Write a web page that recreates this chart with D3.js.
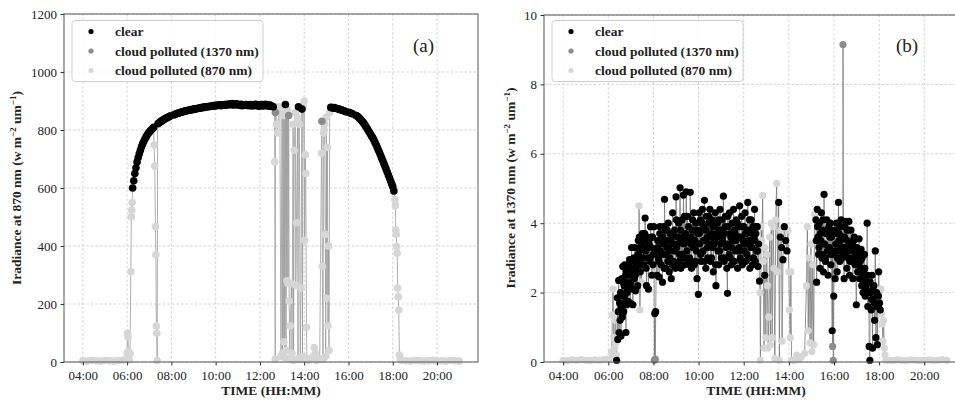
<!DOCTYPE html>
<html>
<head>
<meta charset="utf-8">
<script src="https://cdn.jsdelivr.net/npm/d3@7"></script>
<style>
  body { margin: 0; background: #fff; }
  svg { display: block; font-family: "Liberation Serif", "Times New Roman", serif; }
</style>
</head>
<body>
<svg id="chart" width="955" height="401"></svg>
<script>
// tick values / labels
const timeTicks = [4, 6, 8, 10, 12, 14, 16, 18, 20];
const timeLabels = ["04:00", "06:00", "08:00", "10:00", "12:00", "14:00", "16:00", "18:00", "20:00"];
const ticksA = [0, 200, 400, 600, 800, 1000, 1200];
const ticksB = [0, 2, 4, 6, 8, 10];
const seriesNames = ["clear", "cloud polluted (1370 nm)", "cloud polluted (870 nm)"];

// panel (a): irradiance at 870 nm, [hour, value]
const clearA = [
  [6.25,600],[6.30,625],[6.35,650],[6.40,670],[6.45,690],[6.50,705],[6.55,718],[6.60,730],[6.65,742],[6.70,752],
  [6.75,760],[6.80,768],[6.85,775],[6.90,782],[6.95,788],[7.00,792],[7.05,797],[7.10,801],[7.15,805],[7.20,809],
  [7.40,822],[7.45,825],[7.50,828],[7.55,831],[7.60,833],[7.65,836],[7.70,838],[7.75,840],[7.80,842],[7.85,844],
  [7.90,846],[7.95,848],[8.15,853],[8.20,855],[8.25,857],[8.30,858],[8.35,859],[8.40,860],[8.45,862],[8.50,862],
  [8.55,864],[8.60,865],[8.65,866],[8.70,866],[8.75,868],[8.80,868],[8.85,870],[8.90,869],[8.95,871],[9.00,871],
  [9.05,873],[9.10,872],[9.15,874],[9.20,874],[9.25,876],[9.30,875],[9.35,877],[9.40,877],[9.45,879],[9.50,878],
  [9.55,880],[9.60,880],[9.65,881],[9.70,880],[9.75,882],[9.80,883],[9.85,882],[9.90,884],[9.95,883],[10.00,885],
  [10.05,884],[10.10,886],[10.15,885],[10.20,887],[10.25,884],[10.30,887],[10.35,886],[10.40,888],[10.45,885],[10.50,889],
  [10.55,886],[10.60,888],[10.65,890],[10.70,887],[10.75,891],[10.80,886],[10.85,889],[10.90,887],[10.95,890],[11.00,886],
  [11.05,888],[11.10,885],[11.15,889],[11.20,884],[11.25,887],[11.30,886],[11.35,888],[11.40,885],[11.45,887],[11.50,884],
  [11.55,886],[11.60,888],[11.65,883],[11.70,887],[11.75,885],[11.80,889],[11.85,884],[11.90,886],[11.95,882],[12.00,887],
  [12.05,884],[12.10,888],[12.15,883],[12.20,886],[12.25,889],[12.30,884],[12.35,887],[12.40,882],[12.45,886],[12.50,884],
  [12.55,881],[12.60,880],[13.15,888],[13.74,880],[13.90,872],
  [15.20,878],[15.25,877],[15.30,876],[15.35,877],[15.40,875],[15.45,874],[15.50,874],[15.55,872],[15.60,871],[15.65,870],
  [15.70,869],[15.75,867],[15.80,866],[15.85,864],[15.90,863],[16.05,860],[16.10,858],[16.15,857],[16.35,850],[16.40,847],
  [16.45,844],[16.50,840],[16.55,836],[16.60,832],[16.65,827],[16.70,822],[16.75,816],[16.80,810],[16.85,804],[16.90,797],
  [16.95,791],[17.00,785],[17.05,778],[17.10,772],[17.15,765],[17.20,757],[17.25,749],[17.30,740],[17.35,731],[17.40,722],
  [17.45,713],[17.50,703],[17.55,694],[17.60,684],[17.65,675],[17.70,665],[17.75,655],[17.80,645],[17.85,635],[17.90,625],
  [17.95,615],[18.00,605],[18.05,590]
];
const cloud1370A = [
  [8.00,850],[8.05,851],[8.10,852],[12.70,860],[13.30,850],[14.80,830],
  [15.95,862],[16.00,861],[16.20,855],[16.25,853],[16.30,851]
];
const cloud870A = [
  [4.0,4],[4.2,3],[4.4,5],[4.6,4],[4.8,3],[5.0,5],[5.2,4],[5.4,3],[5.6,5],[5.8,6],[5.95,8],
  [6.00,30],[6.02,99],[6.04,87],[6.06,36],[6.08,24],[6.10,8],[6.13,30],[6.17,311],[6.19,501],[6.21,524],[6.23,550],
  [7.22,748],[7.25,676],[7.28,467],[7.30,370],[7.32,124],[7.34,99],[7.36,5],[7.38,817],
  [12.65,880],[12.67,690],[12.69,10],[12.72,870],[12.75,820],[12.80,790],[12.85,880],[12.90,860],[12.95,20],[13.00,870],
  [13.02,30],[13.05,850],[13.08,70],[13.10,880],[13.12,15],[13.18,40],[13.20,860],[13.22,280],[13.25,870],[13.27,270],
  [13.32,210],[13.35,10],[13.37,125],[13.42,270],[13.45,30],[13.50,820],[13.52,5],[13.55,730],[13.60,860],[13.62,265],
  [13.65,480],[13.70,840],[13.72,10],[13.78,820],[13.82,10],[13.85,255],[13.92,20],[13.95,880],[14.00,900],[14.02,420],
  [14.05,715],[14.07,650],[14.10,120],[14.12,10],[14.20,5],[14.35,15],[14.45,50],[14.50,30],[14.55,5],[14.70,10],
  [14.78,720],[14.82,330],[14.85,10],[14.88,790],[14.90,800],[14.92,820],[14.95,440],[14.97,20],[15.00,845],[15.02,220],
  [15.05,740],[15.07,125],[15.10,400],[15.12,40],[15.15,860],
  [18.10,560],[18.12,540],[18.14,455],[18.16,440],[18.18,398],[18.20,375],[18.22,255],[18.25,225],[18.27,179],[18.30,24],
  [18.35,10],[18.40,5],[18.6,4],[18.8,3],[19.0,5],[19.2,4],[19.4,3],[19.6,4],[19.8,5],[20.0,3],[20.2,4],[20.4,3],
  [20.6,5],[20.8,4],[21.0,3]
];

// panel (b): irradiance at 1370 nm, [hour, value]
const clearB = [
  [6.37,0.05],[6.40,1.85],[6.42,0.65],[6.44,1.45],[6.46,2.35],[6.48,0.85],[6.50,1.70],[6.52,1.20],[6.54,2.00],[6.56,0.75],
  [6.58,1.60],[6.60,2.40],[6.62,1.30],[6.64,2.75],[6.66,1.90],[6.68,1.45],[6.70,2.20],[6.72,2.80],[6.74,1.70],[6.76,2.30],
  [6.78,0.85],[6.80,2.60],[6.82,1.65],[6.84,2.10],[6.86,2.70],[6.88,1.75],[6.91,2.50],[6.94,2.95],[6.97,1.70],[7.00,2.30],
  [7.03,3.30],[7.06,2.60],[7.09,1.65],[7.12,2.90],[7.15,2.40],[7.18,3.30],[7.21,2.05],[7.24,2.75],
  [6.655,2.3],[6.715,1.9],[6.775,2.5],[6.835,2.0],[6.895,2.8],[6.955,2.2],[7.015,2.7],[7.075,2.1],[7.135,3.0],[7.195,2.5],
  [7.27,3.00],[7.30,2.20],[7.33,3.50],[7.36,2.90],[7.39,3.20],[7.42,2.60],[7.45,3.40],[7.48,3.00],[7.51,3.70],[7.54,3.30],
  [7.57,2.80],[7.60,3.50],[7.63,4.15],[7.66,3.20],[7.69,2.20],[7.72,3.60],[7.75,3.00],[7.78,2.10],[7.81,3.40],[7.84,2.90],
  [7.87,3.90],[7.90,3.30],[7.93,2.50],[7.96,3.60],[7.99,3.10],[8.02,3.90],[8.06,1.40],[8.10,1.45],[8.13,3.20],
  [7.255,2.6],[7.315,3.1],[7.375,3.6],[7.435,2.8],[7.495,3.3],[7.555,3.0],[7.615,3.7],[7.675,2.7],[7.735,3.3],[7.795,3.5],
  [7.855,3.0],[7.915,3.6],[7.975,2.8],
  [8.16,2.50],[8.19,3.50],[8.22,3.00],[8.25,2.45],[8.28,3.70],[8.31,3.20],[8.34,2.80],[8.37,3.60],[8.40,2.30],[8.43,3.40],
  [8.46,3.90],[8.49,4.69],[8.52,3.10],[8.55,2.70],[8.58,3.50],[8.61,3.80],[8.64,2.90],[8.67,3.30],[8.70,2.60],[8.73,3.70],
  [8.76,3.20],[8.79,2.40],[8.82,3.60],[8.85,4.30],[8.88,2.90],[8.91,3.40],[8.94,3.80],[8.97,2.70],[9.00,4.76],[9.03,3.30],
  [9.06,2.80],[9.09,3.60],[9.12,4.00],[9.15,3.10],[9.18,5.02],[9.21,2.70],[9.24,3.50],[9.27,4.10],[9.30,3.00],[9.33,4.81],
  [9.36,3.40],[9.39,2.80],[9.42,3.70],[9.45,4.90],[9.48,3.20],[9.51,4.20],[9.54,2.90],[9.57,3.60],[9.60,3.00],[9.63,4.89],
  [9.66,3.40],[9.69,2.70],[9.72,3.80],[9.75,3.30],[9.78,4.30],[9.81,2.80],[9.84,3.50],[9.87,4.00],[9.90,3.20],[9.93,2.40],
  [9.96,3.70],[9.99,1.95],
  [8.175,3.3],[8.235,2.9],[8.295,3.9],[8.355,3.1],[8.415,3.6],[8.475,2.7],[8.535,3.8],[8.595,3.3],[8.655,4.0],[8.715,3.0],
  [8.775,3.5],[8.835,2.8],[8.895,3.7],[8.955,3.2],[9.015,4.1],[9.075,3.4],[9.135,2.9],[9.195,3.8],[9.255,3.1],[9.315,3.6],
  [9.375,4.2],[9.435,3.0],[9.495,3.5],[9.555,3.9],[9.615,2.8],[9.675,3.6],[9.735,4.1],[9.795,3.3],[9.855,2.9],[9.915,3.8],
  [9.975,3.4],
  [10.02,4.30],[10.05,3.40],[10.08,4.10],[10.11,2.90],[10.14,3.80],[10.17,4.40],[10.20,3.20],[10.23,3.90],[10.26,4.66],[10.29,3.50],
  [10.32,2.70],[10.35,4.20],[10.38,3.60],[10.41,3.00],[10.44,4.00],[10.47,3.40],[10.50,4.40],[10.53,2.90],[10.56,3.70],[10.59,4.10],
  [10.62,3.30],[10.65,2.60],[10.68,3.90],[10.71,3.50],[10.74,4.30],[10.77,2.20],[10.80,3.60],[10.83,4.00],[10.86,3.20],[10.89,2.80],
  [10.92,3.80],[10.95,4.40],[10.98,3.40],[11.01,3.00],[11.04,4.10],[11.07,3.60],[11.10,4.78],[11.13,2.90],[11.16,3.70],[11.19,4.20],
  [11.22,3.30],[11.25,2.70],[11.28,1.98],[11.31,3.90],[11.34,3.40],[11.37,4.30],[11.40,3.00],[11.43,3.60],[11.46,2.80],[11.49,4.00],
  [11.52,3.50],[11.55,4.40],[11.58,2.90],[11.61,3.70],[11.64,3.20],[11.67,4.10],[11.70,3.60],[11.73,2.70],[11.76,3.90],[11.79,3.30],
  [11.82,4.50],[11.85,3.00],[11.88,3.60],[11.91,4.20],[11.94,2.80],[11.97,3.50],[12.00,3.90],[12.03,3.20],[12.06,4.30],[12.09,2.90],
  [12.12,3.70],[12.15,3.40],[12.18,4.60],[12.21,3.00],[12.24,3.80],[12.27,2.70],[12.30,3.50],[12.33,4.10],[12.36,3.30],[12.39,2.80],
  [12.42,3.90],[12.45,3.60],[12.48,4.40],[12.51,2.90],[12.54,3.70],[12.57,3.20],[12.60,3.90],[12.63,2.75],[12.66,3.40],[12.70,2.33],
  [10.035,3.7],[10.095,3.1],[10.155,4.0],[10.215,3.5],[10.275,2.9],[10.335,3.8],[10.395,3.3],[10.455,4.2],[10.515,3.6],[10.575,3.0],
  [10.635,3.9],[10.695,3.4],[10.755,2.8],[10.815,3.7],[10.875,4.1],[10.935,3.2],[10.995,3.8],[11.055,3.5],[11.115,3.0],[11.175,3.9],
  [11.235,3.4],[11.295,4.2],[11.355,3.1],[11.415,3.7],[11.475,3.3],[11.535,2.9],[11.595,3.8],[11.655,3.5],[11.715,4.0],[11.775,3.2],
  [11.835,3.6],[11.895,2.9],[11.955,3.9],[12.015,3.4],[12.075,3.7],[12.135,3.1],[12.195,3.5],[12.255,4.1],[12.315,3.3],[12.375,3.7],
  [12.435,3.0],[12.495,3.5],[12.555,3.9],[12.615,3.2],
  [12.93,2.50],[13.55,4.60],[13.62,3.60],[13.68,3.30],[13.74,2.95],[13.80,3.90],[13.86,3.50],[13.92,3.20],
  [15.20,4.10],[15.23,2.30],[15.26,4.40],[15.29,3.60],[15.32,3.10],[15.35,4.00],[15.38,2.70],[15.41,3.50],[15.44,4.30],[15.47,3.00],
  [15.50,3.80],[15.53,2.60],[15.56,4.83],[15.59,3.40],[15.62,2.90],[15.65,3.70],[15.68,4.10],[15.71,3.20],[15.74,2.50],[15.77,3.90],
  [15.80,3.30],[15.83,4.00],[15.86,2.80],[15.89,3.60],[15.92,0.90],[15.95,3.10],[15.99,1.90],[16.02,3.80],[16.05,2.40],[16.08,3.40],
  [16.11,4.00],[16.14,2.60],[16.17,3.20],[16.20,4.60],[16.23,3.70],[16.26,2.90],[16.29,3.50],[16.32,4.10],[16.35,3.00],[16.38,3.60],
  [16.42,3.30],[16.45,2.40],[16.48,3.90],
  [15.215,3.5],[15.275,3.9],[15.335,3.3],[15.395,3.7],[15.455,3.1],[15.515,4.1],[15.575,3.4],[15.635,3.0],[15.695,3.8],[15.755,3.3],
  [15.815,3.6],[15.875,3.1],[15.935,3.7],[16.035,3.2],[16.095,3.7],[16.155,3.0],[16.215,3.5],[16.275,3.9],[16.335,3.3],[16.395,3.1],
  [16.465,3.6],
  [16.51,3.10],[16.54,4.05],[16.57,2.70],[16.60,3.50],[16.63,3.00],[16.66,4.05],[16.69,2.50],[16.72,3.30],[16.75,3.80],[16.78,2.90],
  [16.81,3.40],[16.84,2.40],[16.87,3.20],[16.90,3.60],[16.93,2.80],[16.96,3.10],[16.99,1.65],[17.02,3.30],[17.05,2.60],[17.08,3.00],
  [17.11,3.55],[17.14,2.40],[17.17,2.90],[17.20,3.25],[17.23,2.20],[17.26,2.70],[17.29,2.00],[17.32,2.55],[17.35,3.10],[17.38,1.90],
  [17.41,2.40],[17.44,2.05],[17.47,4.00],[17.50,1.60],[17.53,2.30],[17.56,0.45],[17.59,0.05],[17.62,2.00],[17.65,1.50],[17.68,2.50],
  [17.71,0.40],[17.74,1.80],[17.77,2.20],[17.80,1.20],[17.83,3.20],[17.86,0.70],[17.89,2.00],[17.92,0.50],[17.95,1.60],[17.98,2.60],
  [18.02,1.70],[18.05,1.50],
  [16.525,3.3],[16.585,3.8],[16.645,3.2],[16.705,2.9],[16.765,3.4],[16.825,3.0],[16.885,3.5],[16.945,2.9],[17.005,3.2],[17.065,2.8],
  [17.125,3.1],[17.185,2.6],[17.245,3.0],[17.305,2.3],[17.365,2.7],[17.425,2.2],[17.485,2.5],[17.545,2.0],[17.605,2.3],[17.665,1.8],
  [17.725,2.1],[17.785,1.7],[17.845,2.0],[17.905,1.6],[17.965,1.9]
];
const cloud1370B = [
  [7.50,3.60],[8.04,0.05],[8.08,0.08],[15.94,0.45],[15.97,0.05],[16.25,3.10],[16.40,9.15],[16.80,3.30],[17.10,3.20]
];
const cloud870B = [
  [4.0,0.05],[4.2,0.04],[4.4,0.06],[4.6,0.05],[4.8,0.07],[5.0,0.05],[5.2,0.04],[5.4,0.06],[5.6,0.05],[5.8,0.07],[6.0,0.08],
  [6.10,0.10],[6.15,0.30],[6.18,1.35],[6.21,2.10],[6.24,0.70],[6.27,0.40],[6.30,1.20],[6.33,0.55],[6.35,0.20],
  [7.36,4.50],[7.40,1.50],[7.43,3.20],[7.47,2.30],[7.52,3.70],[8.03,3.40],
  [12.72,2.00],[12.74,0.05],[12.77,3.90],[12.80,3.50],[12.84,4.80],[12.87,2.90],[12.90,0.40],[12.94,3.30],[12.98,0.70],[13.02,3.10],
  [13.05,2.20],[13.08,0.40],[13.11,1.30],[13.15,3.60],[13.18,0.50],[13.22,4.00],[13.26,0.70],[13.30,3.90],[13.34,2.70],[13.38,0.10],
  [13.42,4.10],[13.46,5.15],[13.50,2.60],[13.58,0.05],[13.65,3.80],[13.70,0.60],[13.96,3.80],[14.00,2.60],[14.03,1.50],[14.06,0.70],
  [14.09,2.60],[14.12,0.05],[14.25,0.05],[14.35,0.20],[14.45,0.08],[14.55,0.15],[14.70,0.25],[14.78,2.20],[14.82,3.90],[14.86,0.90],
  [14.90,3.00],[14.94,0.55],[14.98,3.40],[15.02,0.30],[15.06,2.80],[15.10,0.50],[15.14,4.25],
  [18.08,2.10],[18.11,1.40],[18.14,1.10],[18.17,0.60],[18.20,1.20],[18.23,0.40],[18.26,0.20],[18.30,0.05],
  [18.4,0.05],[18.6,0.04],[18.8,0.06],[19.0,0.05],[19.2,0.04],[19.4,0.06],[19.6,0.05],[19.8,0.04],[20.0,0.05],[20.2,0.06],
  [20.4,0.04],[20.6,0.05],[20.8,0.07],[21.0,0.05]
];

const colors = ["#000000", "#8c8c8c", "#d6d6d6"];
const svg = d3.select("#chart");

function drawPanel(p) {
  const x = d3.scaleLinear().domain([3.15, 21.85]).range([p.left, p.right]);
  const y = d3.scaleLinear().domain([0, p.yMax]).range([p.bottom, p.top]);
  const g = svg.append("g");

  // grid
  g.selectAll(".gx").data(timeTicks).enter().append("line")
    .attr("x1", d => x(d)).attr("x2", d => x(d))
    .attr("y1", p.top).attr("y2", p.bottom)
    .attr("stroke", "#c8c8c8").attr("stroke-width", 0.8).attr("stroke-dasharray", "2.5,2");
  g.selectAll(".gy").data(p.yTicks).enter().append("line")
    .attr("x1", p.left).attr("x2", p.right)
    .attr("y1", d => y(d)).attr("y2", d => y(d))
    .attr("stroke", "#c8c8c8").attr("stroke-width", 0.8).attr("stroke-dasharray", "2.5,2");

  // one thin line through all samples in time order
  const all = [];
  p.series.forEach((s, k) => s.forEach(d => all.push({ t: d[0], v: d[1], k })));
  all.sort((a, b) => a.t - b.t);
  g.append("path")
    .datum(all)
    .attr("fill", "none")
    .attr("stroke", p.lineColor)
    .attr("stroke-width", 0.8)
    .attr("d", d3.line().x(d => x(d.t)).y(d => y(d.v)));

  // markers: light gray first, black last
  [2, 1, 0].forEach(k => {
    g.append("g").selectAll("circle").data(p.series[k]).enter().append("circle")
      .attr("cx", d => x(d[0])).attr("cy", d => y(d[1]))
      .attr("r", p.r)
      .attr("fill", colors[k]);
  });

  // frame
  g.append("rect")
    .attr("x", p.left).attr("y", p.top)
    .attr("width", p.right - p.left).attr("height", p.bottom - p.top)
    .attr("fill", "none").attr("stroke", "#555").attr("stroke-width", 1);

  // axes
  const xAxis = d3.axisBottom(x).tickValues(timeTicks)
    .tickFormat((d, i) => timeLabels[i]).tickSize(3.5).tickPadding(5).tickSizeOuter(0);
  const yAxis = d3.axisLeft(y).tickValues(p.yTicks).tickFormat(d3.format("d"))
    .tickSize(3.5).tickPadding(3.5).tickSizeOuter(0);
  const gx = g.append("g").attr("transform", `translate(0,${p.bottom})`).call(xAxis);
  const gy = g.append("g").attr("transform", `translate(${p.left},0)`).call(yAxis);
  [gx, gy].forEach(a => {
    a.select(".domain").remove();
    a.selectAll("line").attr("stroke", "#333");
    a.selectAll("text").attr("font-size", "13px").attr("fill", "#222")
      .attr("font-family", "Liberation Serif, serif");
  });

  // axis titles
  g.append("text")
    .attr("x", p.titleX)
    .attr("y", 395)
    .attr("text-anchor", "middle")
    .attr("font-size", "13.5px").attr("font-weight", "bold").attr("fill", "#222")
    .text("TIME (HH:MM)");

  const yt = g.append("text")
    .attr("transform", `translate(${p.ylabelX},188) rotate(-90)`)
    .attr("text-anchor", "middle")
    .attr("font-size", "13.5px").attr("font-weight", "bold").attr("fill", "#222");
  yt.append("tspan").text(`Iradiance at ${p.wl} nm (w m`);
  yt.append("tspan").attr("dy", -5).attr("font-size", "9px").text("\u22122");
  yt.append("tspan").attr("dy", 5).text(" um");
  yt.append("tspan").attr("dy", -5).attr("font-size", "9px").text("\u22121");
  yt.append("tspan").attr("dy", 5).text(")");

  // panel tag
  g.append("text")
    .attr("x", p.tagX).attr("y", 52)
    .attr("font-size", "19px").attr("fill", "#222")
    .text(p.tag);

  // legend
  const lg = g.append("g").attr("transform", `translate(${p.legX},20.5)`);
  lg.append("rect")
    .attr("width", 191).attr("height", 61).attr("rx", 3)
    .attr("fill", "#fff").attr("fill-opacity", 0.8)
    .attr("stroke", "#cfcfcf").attr("stroke-width", 1);
  seriesNames.forEach((name, i) => {
    lg.append("circle").attr("cx", 19).attr("cy", 11 + i * 19.5).attr("r", 2.6).attr("fill", colors[i]);
    lg.append("text")
      .attr("x", 43).attr("y", 15.5 + i * 19.5)
      .attr("font-size", "13.5px").attr("font-weight", "bold").attr("fill", "#222")
      .text(name);
  });
}

drawPanel({
  left: 64, right: 478, top: 14, bottom: 362, yMax: 1200, yTicks: ticksA,
  series: [clearA, cloud1370A, cloud870A], r: 3.8, lineColor: "#9a9a9a",
  wl: "870", tag: "(a)", tagX: 413, legX: 72, ylabelX: 21, titleX: 271
});
drawPanel({
  left: 544, right: 966, top: 15, bottom: 362, yMax: 10, yTicks: ticksB,
  series: [clearB, cloud1370B, cloud870B], r: 3.6, lineColor: "#7a7a7a",
  wl: "1370", tag: "(b)", tagX: 896, legX: 552, ylabelX: 515, titleX: 756
});
</script>
</body>
</html>
